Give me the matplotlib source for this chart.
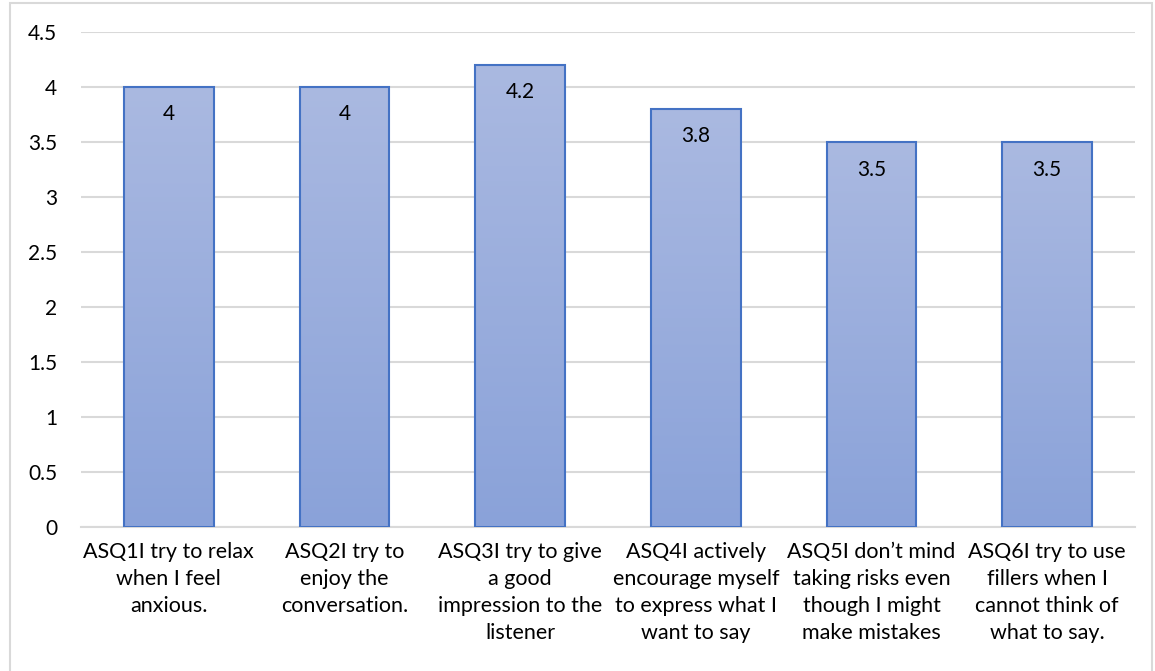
import numpy as np
import matplotlib.pyplot as plt
from matplotlib.patches import Rectangle
from matplotlib.colors import LinearSegmentedColormap

categories = [
    "ASQ1I try to relax\nwhen I feel\nanxious.",
    "ASQ2I try to\nenjoy the\nconversation.",
    "ASQ3I try to give\na good\nimpression to the\nlistener",
    "ASQ4I actively\nencourage myself\nto express what I\nwant to say",
    "ASQ5I don\u2019t mind\ntaking risks even\nthough I might\nmake mistakes",
    "ASQ6I try to use\nfillers when I\ncannot think of\nwhat to say.",
]
values = [4, 4, 4.2, 3.8, 3.5, 3.5]
yticks = [0, 0.5, 1, 1.5, 2, 2.5, 3, 3.5, 4, 4.5]

plt.rcParams['font.family'] = ['Lato', 'DejaVu Sans']

W, H = 1155, 671
fig = plt.figure(figsize=(W / 100, H / 100), dpi=100)
ax = fig.add_axes([81 / W, 1 - 527 / H, (1135 - 81) / W, (527 - 32) / H])

# chart border
fig.patches.append(Rectangle((10 / W, -0.05), (1152 - 10) / W, 1.05 - 3 / H,
                             transform=fig.transFigure, fill=False,
                             edgecolor='#D9D9D9', linewidth=1.5))

x = np.arange(len(values))
bars = ax.bar(x, values, width=0.51, color='none', edgecolor='#4472C4',
              linewidth=1.5, zorder=3)

# vertical gradient inside each bar
grad = np.linspace(0, 1, 256).reshape(-1, 1)
cmap = LinearSegmentedColormap.from_list('g', ['#8AA2D9', '#AAB9E1'])
for b in bars:
    x0, w, h = b.get_x(), b.get_width(), b.get_height()
    im = ax.imshow(grad, extent=[x0, x0 + w, 0, h], origin='lower',
                   cmap=cmap, aspect='auto', zorder=2)
    im.set_clip_path(b)

for xi, v in zip(x, values):
    ax.text(xi, v - 0.25, f"{v:g}", ha='center', va='center',
            fontsize=15, color='black', zorder=4)

ax.set_xlim(-0.5, len(values) - 0.5)
ax.set_ylim(0, 4.5)
ax.set_yticks(yticks)
ax.set_yticklabels([f"{t:g}" for t in yticks], fontsize=15)
ax.set_xticks(x)
ax.set_xticklabels(categories, fontsize=15.5, linespacing=1.43, va='top')
ax.tick_params(axis='both', length=0)
ax.tick_params(axis='y', pad=17)
ax.tick_params(axis='x', pad=11)
ax.grid(axis='y', color='#D9D9D9', linewidth=1.5, zorder=0)
ax.set_axisbelow(True)
for s in ['top', 'right', 'left']:
    ax.spines[s].set_visible(False)
ax.spines['bottom'].set_color('#D9D9D9')
ax.spines['bottom'].set_linewidth(1.5)

fig.savefig('out.png', dpi=100)
